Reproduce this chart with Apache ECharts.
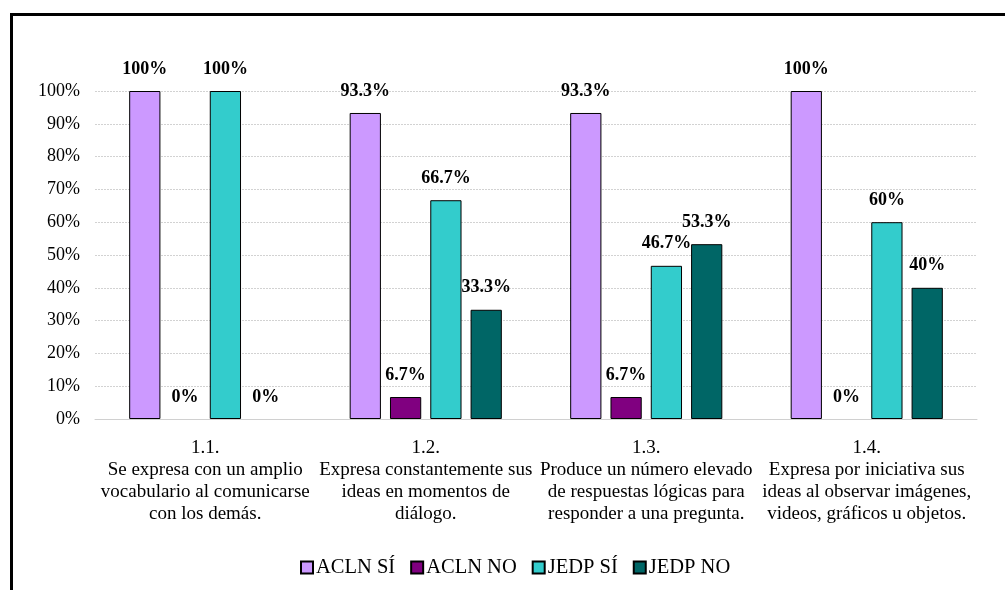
<!DOCTYPE html>
<html>
<head>
<meta charset="utf-8">
<script src="https://cdn.jsdelivr.net/npm/echarts@6/dist/echarts.min.js"></script>
<style>
  html, body { margin: 0; padding: 0; background: #fff; }
  #chart { width: 1005px; height: 590px; }
</style>
</head>
<body>
<div id="chart"></div>
<script>
// Categories (indicator + description)
const categories = [
  '1.1.\nSe expresa con un amplio\nvocabulario al comunicarse\ncon los demás.',
  '1.2.\nExpresa constantemente sus\nideas en momentos de\ndiálogo.',
  '1.3.\nProduce un número elevado\nde respuestas lógicas para\nresponder a una pregunta.',
  '1.4.\nExpresa por iniciativa sus\nideas al observar imágenes,\nvideos, gráficos u objetos.'
];

// Percentages per group
const aclnSi = [100, 93.3, 93.3, 100];
const aclnNo = [0, 6.7, 6.7, 0];
const jedpSi = [100, 66.7, 46.7, 60];
const jedpNo = [0, 33.3, 53.3, 40];

const seriesNames = ['ACLN SÍ', 'ACLN NO', 'JEDP SÍ', 'JEDP NO'];
const seriesColors = ['#CC99FF', '#800080', '#33CCCC', '#006666'];
const seriesData = [aclnSi, aclnNo, jedpSi, jedpNo];

const serif = '"Liberation Serif", "DejaVu Serif", serif';

const chart = echarts.init(document.getElementById('chart'), null, { renderer: 'canvas' });

chart.setOption({
  backgroundColor: '#fff',
  animation: false,
  graphic: [{
    type: 'rect',
    shape: { x: 11.5, y: 14.5, width: 1200, height: 800 },
    style: { fill: 'none', stroke: '#000', lineWidth: 3 },
    silent: true
  }],
  grid: { left: 95, right: 28, top: 91, bottom: 171 },
  legend: {
    top: 552,
    left: 295,
    itemWidth: 12,
    itemHeight: 12,
    itemGap: 15,
    icon: 'rect',
    textStyle: { fontFamily: serif, fontSize: 20.5, color: '#000', padding: [0, 0, 0, -2] },
    data: seriesNames
  },
  xAxis: {
    type: 'category',
    data: categories,
    axisTick: { show: false },
    axisLine: { show: true, lineStyle: { color: '#d0d0d0', width: 1 } },
    axisLabel: {
      interval: 0,
      margin: 18,
      fontFamily: serif,
      fontSize: 19,
      lineHeight: 22,
      color: '#000'
    }
  },
  yAxis: {
    type: 'value',
    min: 0,
    max: 100,
    interval: 10,
    axisLine: { show: false },
    axisTick: { show: false },
    axisLabel: {
      formatter: '{value}%',
      margin: 15,
      fontFamily: serif,
      fontSize: 18,
      color: '#000'
    },
    splitLine: { lineStyle: { color: '#d2d2d2', type: [2, 1], width: 1 } }
  },
  series: seriesData.map((d, i) => ({
    name: seriesNames[i],
    type: 'bar',
    // zero-height bars get no outline so nothing shows on the baseline
    data: d.map(v => (v === 0 ? { value: v, itemStyle: { borderWidth: 0 } } : v)),
    barGap: '29%',
    barCategoryGap: '31%',
    itemStyle: { color: seriesColors[i], borderColor: '#000', borderWidth: 1 },
    label: {
      show: true,
      position: 'top',
      distance: 13,
      formatter: '{c}%',
      fontFamily: serif,
      fontSize: 18,
      fontWeight: 'bold',
      color: '#000'
    }
  }))
});
</script>
</body>
</html>
